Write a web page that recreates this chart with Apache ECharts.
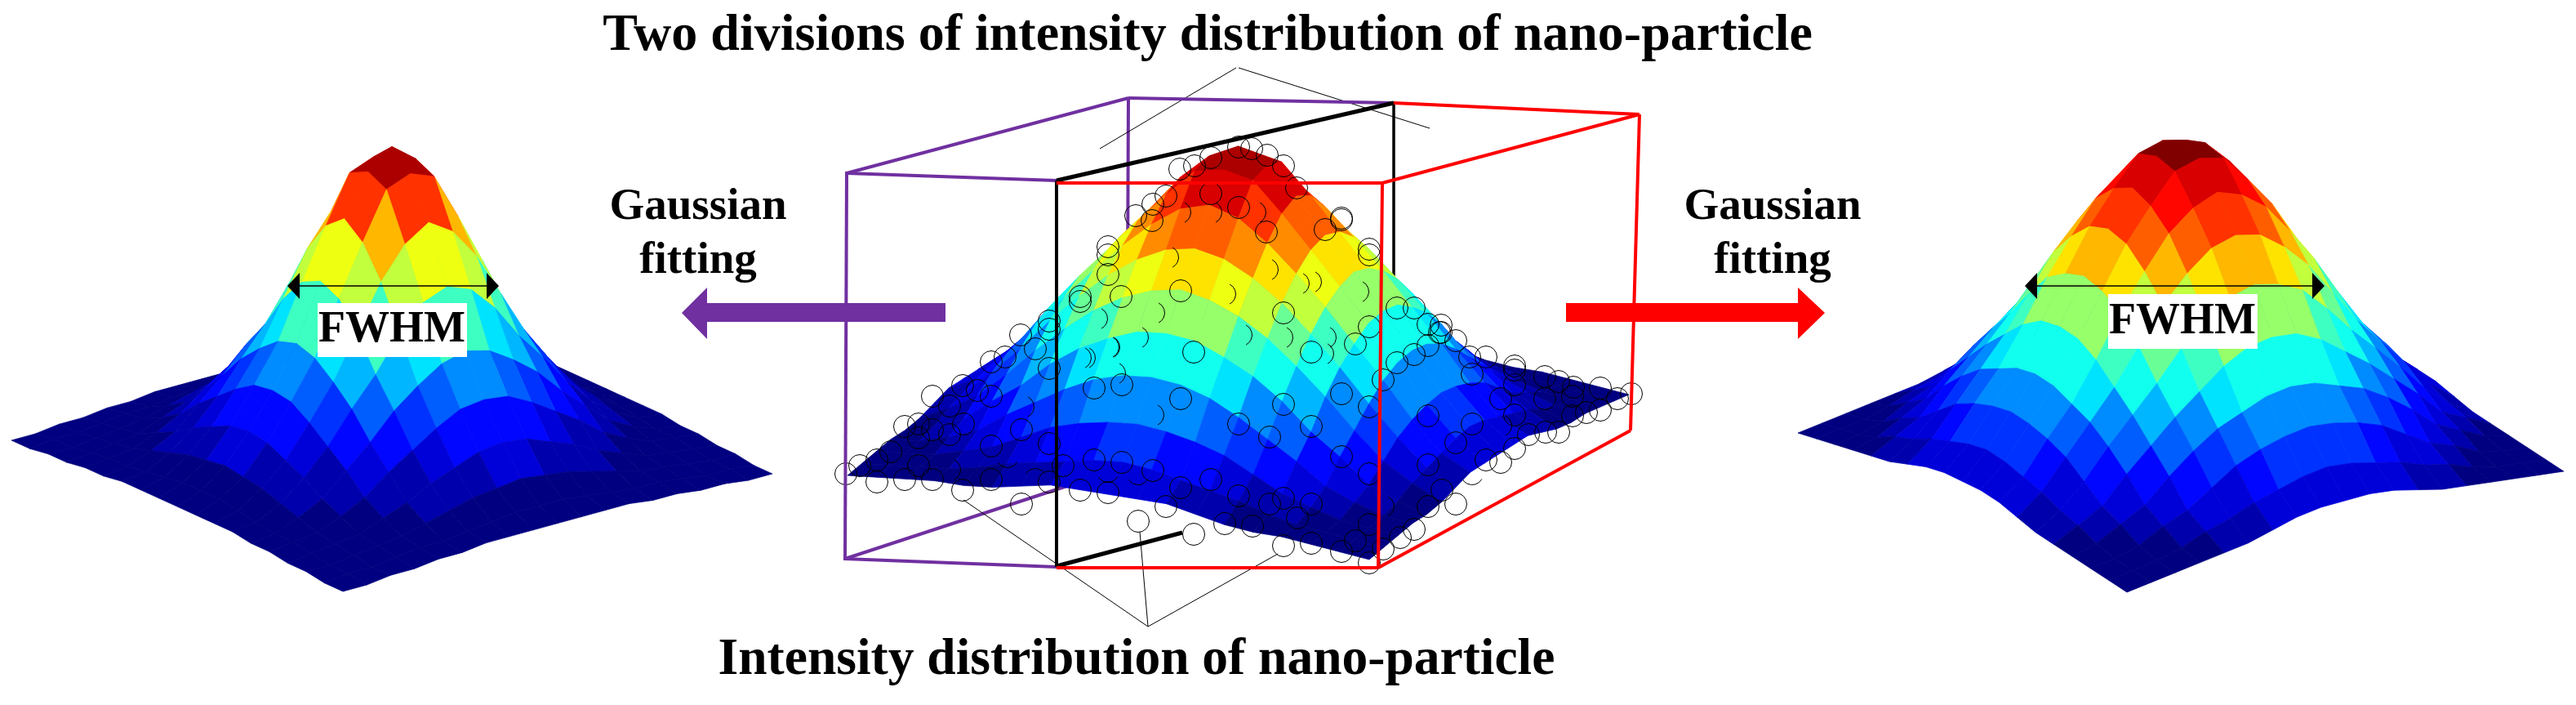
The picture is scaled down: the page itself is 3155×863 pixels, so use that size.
<!DOCTYPE html>
<html><head><meta charset="utf-8">
<style>html,body{margin:0;padding:0;background:#fff}#c{width:3155px;height:863px}</style>
<script src="https://cdn.jsdelivr.net/npm/echarts@6/dist/echarts.min.js"></script>
</head><body><div id="c"></div>
<script>
// ---------- data: surface heights, percent of peak ----------
const leftHeights = [
[0,0,1,1,2,2,3,3,3,3,3,3,3,2,2,1,1,0,0],
[0,1,1,2,3,3,4,5,6,6,6,5,4,3,3,2,1,1,0],
[1,1,2,3,4,6,8,10,11,12,11,10,8,6,4,3,2,1,1],
[1,2,3,4,7,10,14,17,20,21,20,17,14,10,7,4,3,2,1],
[2,3,4,7,11,17,22,27,31,32,31,27,22,17,11,7,4,3,2],
[2,3,6,10,17,24,32,38,43,45,43,38,32,24,17,10,6,3,2],
[3,4,8,14,22,32,41,52,60,63,60,52,41,32,22,14,8,4,3],
[3,5,10,17,27,38,52,66,76,81,76,66,52,38,27,17,10,5,3],
[3,6,11,20,31,43,60,76,91,94,91,76,60,43,31,20,11,6,3],
[3,6,12,21,32,45,63,81,94,100,94,81,63,45,32,21,12,6,3],
[3,6,11,20,31,43,60,76,91,94,91,76,60,43,31,20,11,6,3],
[3,5,10,17,27,38,52,66,76,81,76,66,52,38,27,17,10,5,3],
[3,4,8,14,22,32,41,52,60,63,60,52,41,32,22,14,8,4,3],
[2,3,6,10,17,24,32,38,43,45,43,38,32,24,17,10,6,3,2],
[2,3,4,7,11,17,22,27,31,32,31,27,22,17,11,7,4,3,2],
[1,2,3,4,7,10,14,17,20,21,20,17,14,10,7,4,3,2,1],
[1,1,2,3,4,6,8,10,11,12,11,10,8,6,4,3,2,1,1],
[0,1,1,2,3,3,4,5,6,6,6,5,4,3,3,2,1,1,0],
[0,0,1,1,2,2,3,3,3,3,3,3,3,2,2,1,1,0,0]];
const centerHeights = [
[0,1,2,3,3,4,6,8,8,8,8,8,6,4,3,3,2,1,0],
[1,2,3,4,6,9,11,13,15,16,15,13,11,9,6,4,3,2,1],
[2,3,4,7,10,15,20,23,25,26,25,23,20,15,10,7,4,3,2],
[3,4,7,11,18,24,30,35,38,39,38,35,30,24,18,11,7,4,3],
[3,6,10,18,25,34,41,46,50,51,50,46,41,34,25,18,10,6,3],
[4,9,15,24,34,43,51,57,61,63,61,57,51,43,34,24,15,9,4],
[6,11,20,30,41,51,60,67,72,74,72,67,60,51,41,30,20,11,6],
[8,13,23,35,46,57,67,76,83,86,83,76,67,57,46,35,23,13,8],
[8,15,25,38,50,61,72,83,93,95,93,83,72,61,50,38,25,15,8],
[8,16,26,39,51,63,74,86,95,100,95,86,74,63,51,39,26,16,8],
[8,15,25,38,50,61,72,83,93,95,93,83,72,61,50,38,25,15,8],
[8,13,23,35,46,57,67,76,83,86,83,76,67,57,46,35,23,13,8],
[6,11,20,30,41,51,60,67,72,74,72,67,60,51,41,30,20,11,6],
[4,9,15,24,34,43,51,57,61,63,61,57,51,43,34,24,15,9,4],
[3,6,10,18,25,34,41,46,50,51,50,46,41,34,25,18,10,6,3],
[3,4,7,11,18,24,30,35,38,39,38,35,30,24,18,11,7,4,3],
[2,3,4,7,10,15,20,23,25,26,25,23,20,15,10,7,4,3,2],
[1,2,3,4,6,9,11,13,15,16,15,13,11,9,6,4,3,2,1],
[0,1,2,3,3,4,6,8,8,8,8,8,6,4,3,3,2,1,0]];
const rightHeights = [
[0,1,2,3,4,5,7,9,10,10,10,9,7,5,4,3,2,1,0],
[1,2,3,5,8,10,13,15,17,18,17,15,13,10,8,5,3,2,1],
[2,3,5,9,12,17,22,25,27,28,27,25,22,17,12,9,5,3,2],
[3,5,9,13,20,26,31,34,37,38,37,34,31,26,20,13,9,5,3],
[4,8,12,20,27,34,40,46,50,51,50,46,40,34,27,20,12,8,4],
[5,10,17,26,34,42,51,59,63,65,63,59,51,42,34,26,17,10,5],
[7,13,22,31,40,51,62,70,76,78,76,70,62,51,40,31,22,13,7],
[9,15,25,34,46,59,70,80,86,89,86,80,70,59,46,34,25,15,9],
[10,17,27,37,50,63,76,86,95,97,95,86,76,63,50,37,27,17,10],
[10,18,28,38,51,65,78,89,97,100,97,89,78,65,51,38,28,18,10],
[10,17,27,37,50,63,76,86,95,97,95,86,76,63,50,37,27,17,10],
[9,15,25,34,46,59,70,80,86,89,86,80,70,59,46,34,25,15,9],
[7,13,22,31,40,51,62,70,76,78,76,70,62,51,40,31,22,13,7],
[5,10,17,26,34,42,51,59,63,65,63,59,51,42,34,26,17,10,5],
[4,8,12,20,27,34,40,46,50,51,50,46,40,34,27,20,12,8,4],
[3,5,9,13,20,26,31,34,37,38,37,34,31,26,20,13,9,5,3],
[2,3,5,9,12,17,22,25,27,28,27,25,22,17,12,9,5,3,2],
[1,2,3,5,8,10,13,15,17,18,17,15,13,10,8,5,3,2,1],
[0,1,2,3,4,5,7,9,10,10,10,9,7,5,4,3,2,1,0]];

// scattered measurement rings of the centre panel, read on the page scale; arc: 0 whole, 1 right, 2 bottom, 3 top
const ringX = [1036,1053,1074,1091,1074,1108,1108,1125,1125,1142,1142,1163,1163,1179,1197,1214,1180,1214,1231,1268,1285,1251,1251,1214,1285,1125,1142,1214,1179,1302,1285,1323,1357,1340,1374,1412,1446,1428,1394,1462,1500,1483,1517,1340,1374,1446,1517,1462,1555,1572,1606,1643,1606,1660,1677,1643,1677,1694,1711,1732,1749,1765,1783,1800,1820,1855,1855,1803,1892,1909,1927,1960,1981,1998,1855,1838,1892,1926,1749,1803,1855,1926,1943,1960,1893,1909,1872,1855,1820,1838,1783,1766,1783,1749,1749,1732,1715,1694,1677,1643,1660,1677,1606,1572,1589,1606,1555,1572,1534,1445,1463,1483,1517,1533,1552,1572,1588,1412,1428,1391,1411,1357,1357,1357,1323,1323,1373,1446,1483,1517,1551,1623,1643,1643,1677,1677,1572,1711,1732,1677,1285,1285,1250,1749,1765,1763,1234,1268,1357,1394,1253,1412,1365,1328,1358,1163,1803,1694,1838,1445,1483,1537,1430,1552,1500,1605,1663,1590,1413,1343,1520,1393,1357,1323,1570,1623,1620];
const ringY = [580,570,563,553,590,587,522,519,536,526,485,497,532,472,478,485,519,443,437,427,451,526,617,546,543,570,587,587,600,570,590,600,603,563,566,576,597,620,638,654,641,587,607,475,471,488,519,431,535,495,522,482,431,421,498,559,580,465,444,434,423,407,417,437,437,448,453,458,461,467,474,475,488,482,471,488,488,485,509,519,508,509,505,502,529,529,532,549,563,566,542,600,617,569,620,648,658,672,689,675,662,642,665,668,634,617,617,610,644,207,203,193,180,182,190,203,230,250,240,264,270,302,312,336,363,369,363,356,237,254,284,281,269,267,305,312,383,377,377,400,393,403,410,397,398,407,559,587,577,580,498,508,457,438,425,575,580,620,521,260,260,260,315,330,360,345,357,347,383,390,410,413,425,438,413,413,433];
const ringArc = [0,0,0,0,0,0,0,0,0,0,0,0,0,0,0,0,0,0,0,0,0,0,0,0,0,0,0,0,0,0,0,0,0,0,0,0,0,0,0,0,0,0,0,0,0,0,0,0,0,0,0,0,0,0,0,0,0,0,0,0,0,0,0,0,0,0,0,0,0,0,0,0,0,0,0,0,0,0,0,0,0,0,0,0,0,0,0,0,0,0,0,0,0,0,0,0,0,0,0,0,0,0,0,0,0,0,0,0,0,0,0,0,0,0,0,0,0,0,0,0,0,0,0,0,0,0,0,0,0,0,0,0,0,0,0,0,0,0,0,0,0,0,0,0,0,0,2,3,2,2,1,1,1,1,1,1,2,1,1,1,1,1,1,1,1,1,1,1,1,1,1,1,1,1,1,1,1];

const titleText = 'Two divisions of intensity distribution of nano-particle';
const captionText = 'Intensity distribution of nano-particle';
const fitWords = ['Gaussian','fitting'];
const fwhmText = 'FWHM';

// ---------- layout (page scale) ----------
const panels = [
  {h:leftHeights,   front:[420,724],  left:[14,539],   right:[946,580],  lift:380,   tone:1.35},
  {h:centerHeights, front:[1677,685], left:[1038,582], right:[1995,483], lift:353.5, tone:1.1},
  {h:rightHeights,  front:[2605,725], left:[2202,530], right:[3140,577], lift:382,   tone:1.12}
];
const PURPLE='#7030A0', RED='#FF0000', BLACK='#000000';
const backSegs = [
 [[1382,120],[1380,571],PURPLE,4],[[1035,684],[1380,571],PURPLE,4],
 [[1707,126],[1707,365],BLACK,3.5],
 [[1294,693],[1448,652],BLACK,5],
 [[1514,83],[1347,182],BLACK,1],[[1517,83],[1751,157],BLACK,1],
 [[1406,767],[1180,612],BLACK,1],[[1396,651],[1406,767],BLACK,1],[[1565,678],[1406,767],BLACK,1]
];
const frontSegs = [
 [[1037,212],[1382,120],PURPLE,4],[[1382,120],[1707,126],PURPLE,4],[[1037,212],[1294,221],PURPLE,4],
 [[1037,210],[1035,686],PURPLE,4],[[1035,684],[1294,694],PURPLE,4],
 [[1294,221],[1707,126],BLACK,5],[[1294,221],[1294,694],BLACK,4],
 [[1707,126],[2008,140],RED,4],[[1693,224],[2008,140],RED,4],[[1294,224],[1693,224],RED,4],
 [[1693,224],[1688,694],RED,4],[[2008,140],[1997,527],RED,4],
 [[1294,695],[1688,695],RED,4],[[1688,695],[1997,527],RED,4]
];
const polys = [
 {pts:[[835,383],[866,352],[866,371],[1158,371],[1158,394],[866,394],[866,415]],c:PURPLE},
 {pts:[[2235,383],[2202,352],[2202,371],[1918,371],[1918,394],[2202,394],[2202,415]],c:RED},
 {pts:[[389,371],[572,371],[572,437],[389,437]],c:'#fff'},
 {pts:[[2582,360],[2765,360],[2765,427],[2582,427]],c:'#fff'},
 {pts:[[352,350],[367,334],[367,366]],c:BLACK},{pts:[[611,350],[596,334],[596,366]],c:BLACK},
 {pts:[[2480,350],[2495,334],[2495,366]],c:BLACK},{pts:[[2847,350],[2832,334],[2832,366]],c:BLACK}
];
const annoSegs = [[[360,350],[600,350],BLACK,1.5],[[2490,350],[2840,350],BLACK,1.5]];
const F='bold 64px "Liberation Serif"', G='bold 55px "Liberation Serif"';
const texts = [
 [1479,44,titleText,F],[1392,809,captionText,'bold 63.5px "Liberation Serif"'],
 [855,254,fitWords[0],G],[855,320,fitWords[1],G],
 [2171,254,fitWords[0],G],[2171,320,fitWords[1],G],
 [480,404,fwhmText,'bold 54px "Liberation Serif"'],[2673,394,fwhmText,'bold 54px "Liberation Serif"']
];
const LEVELS=24, R=13.5;

function clamp(v){return Math.max(0,Math.min(1,v));}
function jet(t){
  t=Math.min(LEVELS-1,Math.floor(t*LEVELS))/(LEVELS-1);
  const h=v=>Math.round(255*clamp(1.5-Math.abs(4*t-v)));
  return `rgb(${h(3)},${h(2)},${h(1)})`;
}
function surfaceSeries(p){
  const n=p.h.length-1, data=[];
  const U=[(p.right[0]-p.front[0])/n,(p.right[1]-p.front[1])/n];
  const V=[(p.left[0]-p.front[0])/n,(p.left[1]-p.front[1])/n];
  const at=(i,j)=>[p.front[0]+i*U[0]+j*V[0], p.front[1]+i*U[1]+j*V[1]-p.h[i][j]/100*p.lift];
  for(let i=n-1;i>=0;i--)for(let j=n-1;j>=0;j--){
    data.push([i,j,(p.h[i][j]+p.h[i+1][j]+p.h[i][j+1]+p.h[i+1][j+1])/4]);
  }
  return {type:'custom',z:2,silent:true,clip:false,animation:false,data,
    encode:{x:0,y:1},
    renderItem(par,api){
      const i=api.value(0),j=api.value(1),c=jet(Math.pow(api.value(2)/100,p.tone));
      const pts=[at(i,j),at(i+1,j),at(i+1,j+1),at(i,j+1)].map(q=>api.coord(q));
      return {type:'polygon',shape:{points:pts},style:{fill:c,stroke:c,lineWidth:0.7}};
    }};
}
function segSeries(segs,z){
  return {type:'custom',z,silent:true,clip:false,animation:false,data:segs.map((s,i)=>[i,0]),encode:{x:0,y:1},
    renderItem(par,api){
      const s=segs[api.value(0)];
      const a=api.coord(s[0]),b=api.coord(s[1]);
      return {type:'line',shape:{x1:a[0],y1:a[1],x2:b[0],y2:b[1]},style:{stroke:s[2],lineWidth:s[3]}};
    }};
}
const arcs=[[0,Math.PI*2],[-1.1,1.1],[0.5,2.6],[3.7,5.7]];
const ringSeries={type:'custom',z:3,silent:true,clip:false,animation:false,
  data:ringX.map((x,i)=>[x,ringY[i],ringArc[i]]),encode:{x:0,y:1},
  renderItem(par,api){
    const c=api.coord([api.value(0),api.value(1)]),k=arcs[api.value(2)];
    return {type:'arc',shape:{cx:c[0],cy:c[1],r:R,startAngle:k[0],endAngle:k[1],clockwise:true},
      style:{fill:null,stroke:'#000',lineWidth:1}};
  }};
const polySeries={type:'custom',z:5,silent:true,clip:false,animation:false,data:polys.map((p,i)=>[i,0]),encode:{x:0,y:1},
  renderItem(par,api){
    const p=polys[api.value(0)];
    return {type:'polygon',shape:{points:p.pts.map(q=>api.coord(q))},style:{fill:p.c}};
  }};
const textSeries={type:'custom',z:6,silent:true,clip:false,animation:false,data:texts.map((t,i)=>[i,0]),encode:{x:0,y:1},
  renderItem(par,api){
    const t=texts[api.value(0)],c=api.coord([t[0],t[1]]);
    return {type:'text',x:c[0],y:c[1],style:{text:t[2],font:t[3],fill:'#000',align:'center',verticalAlign:'middle'}};
  }};
const chart=echarts.init(document.getElementById('c'),null,{renderer:'canvas'});
chart.setOption({animation:false,backgroundColor:'#fff',
  grid:{left:0,right:0,top:0,bottom:0},
  xAxis:{type:'value',min:0,max:3155,show:false},
  yAxis:{type:'value',min:0,max:863,inverse:true,show:false},
  series:[segSeries(backSegs,1),...panels.map(surfaceSeries),ringSeries,segSeries(frontSegs,4),polySeries,segSeries(annoSegs,5),textSeries]
});
</script></body></html>
